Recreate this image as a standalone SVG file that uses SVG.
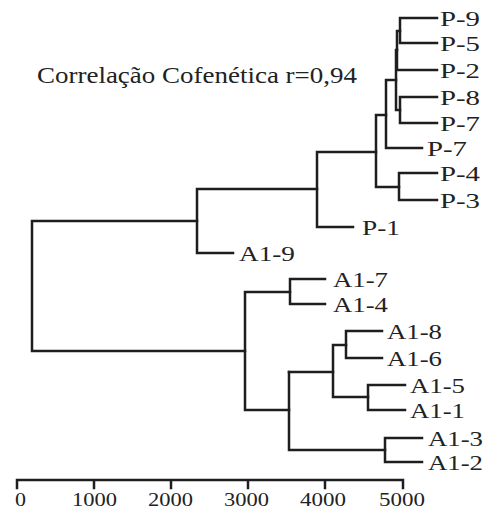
<svg xmlns="http://www.w3.org/2000/svg" width="486" height="512" viewBox="0 0 486 512" font-family="'Liberation Serif', Tinos, 'Times New Roman', serif">
<style>
.e{fill:none;stroke:#1e1e1e;stroke-width:2.5;stroke-linecap:square;stroke-linejoin:miter}
text{font-family:'Liberation Serif', Tinos, 'Times New Roman', serif;fill:#222}
.l{font-size:21px}
.a{font-size:19.5px}
.t{font-size:22.5px}
</style>
<rect width="486" height="512" fill="#fff"/>
<text class="t" x="37" y="83" textLength="320" lengthAdjust="spacingAndGlyphs">Correlação Cofenética r=0,94</text>
<g id="connectors">
<path class="e" d="M437,18 H400 V43 H437"/>
<path class="e" d="M400,31 H397 V70 H437"/>
<path class="e" d="M437,97 H400 V123 H437"/>
<path class="e" d="M397,50 H396 V110 H400"/>
<path class="e" d="M396,80 H386 V148 H422"/>
<path class="e" d="M386,115 H376 V187 H399"/>
<path class="e" d="M437,173 H399 V200 H437"/>
<path class="e" d="M376,152 H317 V227 H353"/>
<path class="e" d="M317,189 H197 V253 H233"/>
<path class="e" d="M197,221 H32 V351 H245"/>
<path class="e" d="M290,292 H245 V410 H289"/>
<path class="e" d="M325,279 H290 V304 H325"/>
<path class="e" d="M289,372 V450 H385"/>
<path class="e" d="M289,372 H333"/>
<path class="e" d="M346,345 H333 V397 H368"/>
<path class="e" d="M382,331 H346 V358 H382"/>
<path class="e" d="M405,385 H368 V410 H405"/>
<path class="e" d="M422,438 H385 V462 H422"/>
</g>
<g id="P-9"><text class="l" x="440" y="26" textLength="40" lengthAdjust="spacingAndGlyphs">P-9</text></g>
<g id="P-5"><text class="l" x="440" y="51" textLength="40" lengthAdjust="spacingAndGlyphs">P-5</text></g>
<g id="P-2"><text class="l" x="440" y="78" textLength="40" lengthAdjust="spacingAndGlyphs">P-2</text></g>
<g id="P-8"><text class="l" x="440" y="105" textLength="40" lengthAdjust="spacingAndGlyphs">P-8</text></g>
<g id="P-7a"><text class="l" x="440" y="131" textLength="40" lengthAdjust="spacingAndGlyphs">P-7</text></g>
<g id="P-7b"><text class="l" x="427" y="156" textLength="40" lengthAdjust="spacingAndGlyphs">P-7</text></g>
<g id="P-4"><text class="l" x="440" y="181" textLength="40" lengthAdjust="spacingAndGlyphs">P-4</text></g>
<g id="P-3"><text class="l" x="440" y="208" textLength="40" lengthAdjust="spacingAndGlyphs">P-3</text></g>
<g id="P-1"><text class="l" x="362" y="235" textLength="38" lengthAdjust="spacingAndGlyphs">P-1</text></g>
<g id="A1-9"><text class="l" x="239" y="261" textLength="56" lengthAdjust="spacingAndGlyphs">A1-9</text></g>
<g id="A1-7"><text class="l" x="333" y="287" textLength="55" lengthAdjust="spacingAndGlyphs">A1-7</text></g>
<g id="A1-4"><text class="l" x="333" y="312" textLength="55" lengthAdjust="spacingAndGlyphs">A1-4</text></g>
<g id="A1-8"><text class="l" x="387" y="339" textLength="55" lengthAdjust="spacingAndGlyphs">A1-8</text></g>
<g id="A1-6"><text class="l" x="387" y="366" textLength="55" lengthAdjust="spacingAndGlyphs">A1-6</text></g>
<g id="A1-5"><text class="l" x="410" y="393" textLength="55" lengthAdjust="spacingAndGlyphs">A1-5</text></g>
<g id="A1-1"><text class="l" x="410" y="418" textLength="55" lengthAdjust="spacingAndGlyphs">A1-1</text></g>
<g id="A1-3"><text class="l" x="428" y="446" textLength="55" lengthAdjust="spacingAndGlyphs">A1-3</text></g>
<g id="A1-2"><text class="l" x="428" y="470" textLength="55" lengthAdjust="spacingAndGlyphs">A1-2</text></g>
<g id="axis">
<path class="e" d="M17,488 V480 H403 V488 M94,480 V488 M171,480 V488 M248,480 V488 M325,480 V488"/>
<text class="a" x="15" y="506" textLength="11" lengthAdjust="spacingAndGlyphs">0</text>
<text class="a" x="72" y="506" textLength="45" lengthAdjust="spacingAndGlyphs">1000</text>
<text class="a" x="148" y="506" textLength="45" lengthAdjust="spacingAndGlyphs">2000</text>
<text class="a" x="224" y="506" textLength="45" lengthAdjust="spacingAndGlyphs">3000</text>
<text class="a" x="300" y="506" textLength="46" lengthAdjust="spacingAndGlyphs">4000</text>
<text class="a" x="379" y="506" textLength="46" lengthAdjust="spacingAndGlyphs">5000</text>
</g>
</svg>
